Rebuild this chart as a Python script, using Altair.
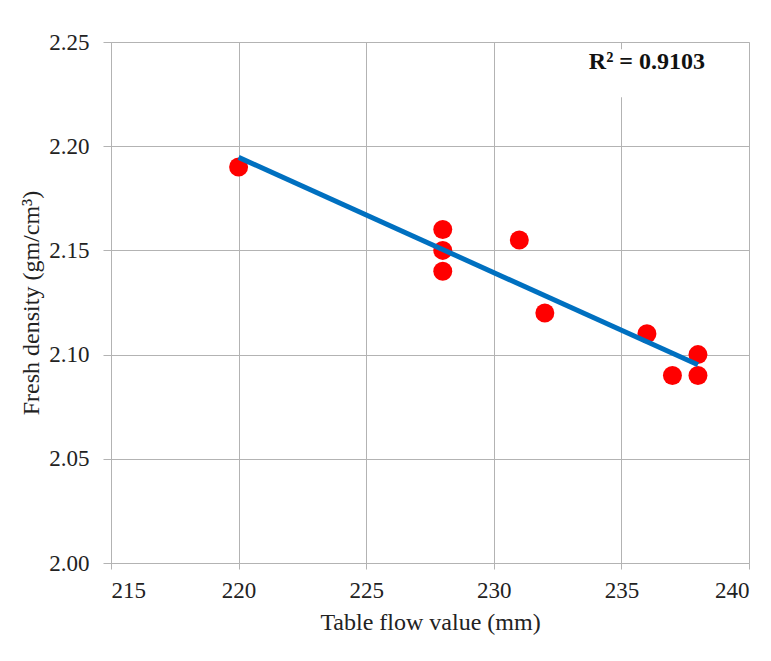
import altair as alt
import pandas as pd

flow = [220, 228, 228, 228, 231, 232, 236, 237, 238, 238]
density = [2.19, 2.16, 2.15, 2.14, 2.155, 2.12, 2.11, 2.09, 2.10, 2.09]
x_ticks = [215, 220, 225, 230, 235, 240]
y_ticks = [2.00, 2.05, 2.10, 2.15, 2.20, 2.25]
r2_label = "R² = 0.9103"

df = pd.DataFrame({"flow": flow, "density": density})
ann = pd.DataFrame({"x": [236.0], "y": [2.2404], "x1": [234.2], "x2": [237.9],
                    "y1": [2.2235], "y2": [2.2465], "label": [r2_label]})

FONT = "Liberation Serif"
GRID = "#b3b3b3"

xs = alt.Scale(domain=[215, 240], nice=False, zero=False)
ys = alt.Scale(domain=[2.0, 2.25], nice=False, zero=False)

x_axis = alt.Axis(values=x_ticks, format="d", tickSize=6, labelPadding=10,
                  grid=True, gridColor=GRID, domainColor=GRID, tickColor=GRID,
                  labelFont=FONT, labelFontSize=23, labelColor="#222",
                  titleFont=FONT, titleFontWeight="normal", titleColor="#222",
                  titleFontSize=24, titlePadding=8)
y_axis = alt.Axis(values=y_ticks, format=".2f", tickSize=8, labelPadding=14,
                  grid=True, gridColor=GRID, domainColor=GRID, tickColor=GRID,
                  labelFont=FONT, labelFontSize=23, labelColor="#222",
                  titleFont=FONT, titleFontWeight="normal", titleColor="#222",
                  titleFontSize=24, titlePadding=5)

x_enc = alt.X("flow:Q", scale=xs, title="Table flow value (mm)", axis=x_axis)
y_enc = alt.Y("density:Q", scale=ys, title="Fresh density (gm/cm³)", axis=y_axis)

points = alt.Chart(df).mark_circle(color="#ff0000", opacity=1, size=360).encode(x=x_enc, y=y_enc)

trend = alt.Chart(df).transform_regression("flow", "density").mark_line(
    color="#0070c0", strokeWidth=5).encode(x=x_enc, y=y_enc)

bg = alt.Chart(ann).mark_rect(color="white").encode(
    x=alt.X("x1:Q", scale=xs), x2="x2:Q", y=alt.Y("y1:Q", scale=ys), y2="y2:Q")

txt = alt.Chart(ann).mark_text(font=FONT, fontSize=24, fontWeight="bold",
                               color="#111", align="center", baseline="middle").encode(
    x=alt.X("x:Q", scale=xs), y=alt.Y("y:Q", scale=ys), text="label:N")

chart = alt.layer(points, trend, bg, txt).properties(
    width=638, height=521,
    autosize=alt.AutoSizeParams(type="none"),
    padding={"left": 111, "top": 42, "right": 22, "bottom": 98},
).configure_view(stroke=None).configure(background="white")

chart.save("out.html", embed_options={"renderer": "svg", "actions": False})
